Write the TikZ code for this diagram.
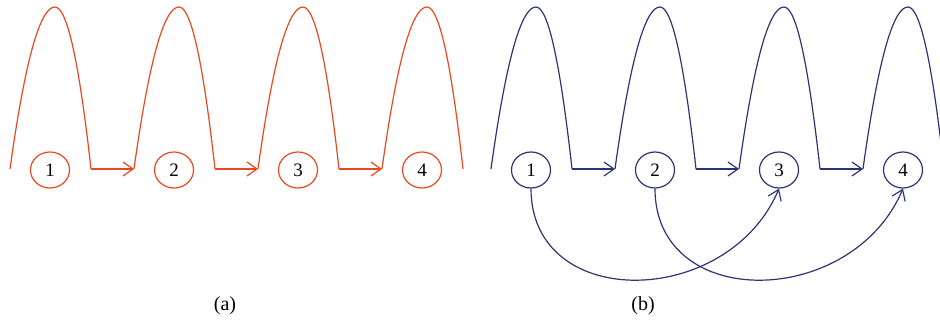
\documentclass[tikz,border=0pt]{standalone}
\usepackage{fontspec}
\setmainfont{Liberation Serif}
\usetikzlibrary{arrows.meta,shapes.geometric}
\definecolor{cred}{RGB}{232,72,32}
\definecolor{cnavy}{RGB}{45,52,115}
\tikzset{
  ln/.style={line width=1.2pt},
  tip/.style={-{Straight Barb[length=10pt,width=14pt,line width=1.2pt]}},
  ell/.style={draw=#1,ellipse,line width=1.2pt,minimum width=39pt,minimum height=36pt,inner sep=0pt,font=\fontsize{19}{19}\selectfont,text=black},
  lab/.style={font=\fontsize{20}{20}\selectfont}
}
\begin{document}
\begin{tikzpicture}[x=1pt,y=-1pt]
\useasboundingbox (0,0) rectangle (940,323);
\clip (0,0) rectangle (940,323);
% panel (a)
\foreach \i in {0,1,2,3}{
  \pgfmathsetmacro\xa{10+124*\i}
  \draw[ln,cred] (\xa,169) .. controls ({\xa+15},61) and ({\xa+30},7) .. ({\xa+45},7)
     .. controls ({\xa+57},7) and ({\xa+69},61) .. ({\xa+81},169);
  \coordinate (aS\i) at (\xa,169);
  \coordinate (aE\i) at ({\xa+81},169);
  \pgfmathsetmacro\xb{491+124*\i}
  \draw[ln,cnavy] (\xb,169) .. controls ({\xb+15},61) and ({\xb+30},7) .. ({\xb+45},7)
     .. controls ({\xb+57},7) and ({\xb+69},61) .. ({\xb+81},169);
  \coordinate (bS\i) at (\xb,169);
  \coordinate (bE\i) at ({\xb+81},169);
}
\draw[ln,cred,tip] (aE0) -- (aS1);
\draw[ln,cred,tip] (aE1) -- (aS2);
\draw[ln,cred,tip] (aE2) -- (aS3);
\draw[ln,cnavy,tip] (bE0) -- (bS1);
\draw[ln,cnavy,tip] (bE1) -- (bS2);
\draw[ln,cnavy,tip] (bE2) -- (bS3);
% nodes
\node[ell=cred] (a1) at (50,170) {1};
\node[ell=cred] (a2) at (174,170) {2};
\node[ell=cred] (a3) at (298,170) {3};
\node[ell=cred] (a4) at (422,170) {4};
\node[ell=cnavy] (b1) at (531,170) {1};
\node[ell=cnavy] (b2) at (655,170) {2};
\node[ell=cnavy] (b3) at (779,170) {3};
\node[ell=cnavy] (b4) at (903,170) {4};
% long arrows
\draw[ln,cnavy,tip] (b1.south) .. controls (531,312) and (728,309) .. (b3.south);
\draw[ln,cnavy,tip] (b2.south) .. controls (655,312) and (852,309) .. (b4.south);
% labels
\node[lab] (la) at (225,306) {(a)};
\node[lab] (lb) at (643,306) {(b)};
\end{tikzpicture}
\end{document}
